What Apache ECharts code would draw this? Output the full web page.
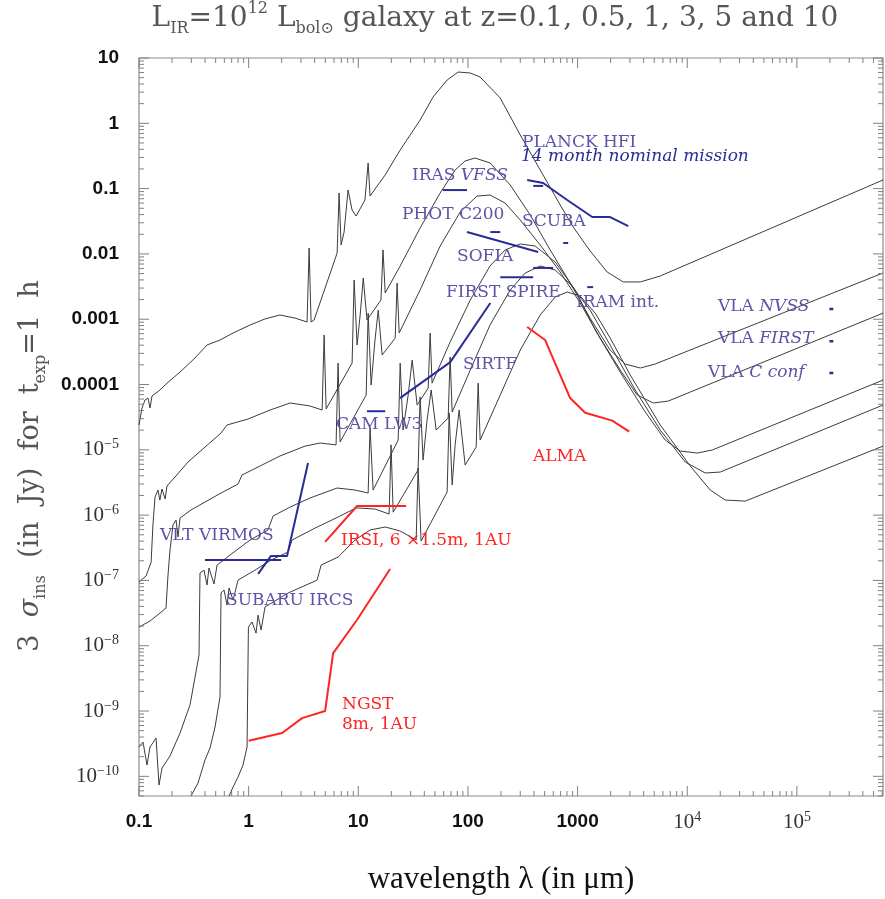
<!DOCTYPE html>
<html>
<head>
<meta charset="utf-8">
<title>LIR galaxy SED vs sensitivities</title>
<script src="https://cdn.jsdelivr.net/npm/echarts@6.0.0/dist/echarts.min.js"></script>
<style>
  html, body { margin: 0; padding: 0; background: #fff; }
  #chart { width: 885px; height: 899px; }
</style>
</head>
<body>
<div id="chart"></div>
<script>
// axis ranges (wavelength in micron, flux in Jy)
var xMin = 0.1, xMax = 6.1e5;
var yMin = 5e-11, yMax = 10;

var xMajorTicks = [0.1, 1, 10, 100, 1000, 1e4, 1e5];
var xTickLabels = ['{d|0.1}', '{d|1}', '{d|10}', '{d|100}', '{d|1000}', '{p|10}{e|4}', '{p|10}{e|5}'];
var yMajorTicks = [1e-10, 1e-9, 1e-8, 1e-7, 1e-6, 1e-5, 1e-4, 1e-3, 0.01, 0.1, 1, 10];
var yTickLabels = ['{p|10}{e|\u221210}', '{p|10}{e|\u22129}', '{p|10}{e|\u22128}', '{p|10}{e|\u22127}',
  '{p|10}{e|\u22126}', '{p|10}{e|\u22125}', '{d|0.0001}', '{d|0.001}', '{d|0.01}', '{d|0.1}', '{d|1}', '{d|10}'];
var minorSteps = [2, 3, 4, 5, 6, 7, 8, 9];

// galaxy SEDs, [wavelength, flux]
var sedZ0_1 = [[0.1, 2.4e-5], [0.1065, 4.37e-5], [0.1134, 5.79e-5], [0.1208, 6.21e-5], [0.126, 4.37e-5], [0.1314, 6.67e-5],
  [0.1554, 8.24e-5], [0.18, 1.05e-4], [0.2366, 1.55e-4], [0.324, 2.55e-4], [0.417, 4.03e-4], [0.548, 4.8e-4], [0.721, 6.15e-4],
  [1.03, 8.15e-4], [1.41, 1.01e-3], [1.93, 1.16e-3], [2.65, 1.04e-3], [3.41, 9.06e-4], [3.56, 1.23e-2], [3.71, 9.06e-4],
  [3.95, 9.72e-4], [6.41, 1.03e-2], [6.68, 0.0857], [6.97, 0.0137], [7.42, 0.0216], [8.07, 0.0953], [8.78, 0.047], [9.55, 0.038],
  [11.5, 0.0668], [12.3, 0.247], [12.8, 0.077], [17.6, 0.162], [24.1, 0.39], [36.6, 1.12], [48.1, 2.53], [64.6, 4.6], [81.4, 6.1],
  [105, 5.89], [129, 5.12], [197, 2.44], [300, 0.662], [456, 0.193], [694, 0.0561], [912, 0.0258], [1300, 0.0111], [1860, 5.28e-3],
  [2610, 3.72e-3], [3730, 3.72e-3], [5670, 4.59e-3], [6.1e5, 0.1355]];
var sedZ0_5 = [[0.1, 9.46e-8], [0.116, 1.17e-7], [0.129, 1.91e-7], [0.134, 7.05e-7], [0.14, 1.89e-6], [0.149, 2.42e-6], [0.155, 1.7e-6],
  [0.162, 2.51e-6], [0.173, 1.77e-6], [0.18, 2.79e-6], [0.213, 3.83e-6], [0.28, 6.5e-6], [0.4, 1.1e-5], [0.56, 1.81e-5], [0.635, 2.4e-5],
  [0.987, 2.96e-5], [1.57, 4.07e-5], [2.39, 5.21e-5], [3.63, 4.69e-5], [4.68, 4.07e-5], [4.88, 5.73e-4], [5.09, 4.22e-5], [8.78, 2.13e-4],
  [9.16, 3.98e-3], [9.75, 4.03e-4], [10.4, 1.16e-3], [11.1, 4.28e-3], [12.0, 9.72e-4], [16.1, 1.97e-3], [16.8, 0.0115], [17.6, 2.52e-3],
  [24.1, 6.53e-3], [36.6, 0.0249], [55.8, 0.0857], [76.4, 0.193], [94.3, 0.265], [116, 0.294], [159, 0.247], [243, 0.1135], [370, 0.0394],
  [562, 0.0115], [856, 3.58e-3], [1300, 1.04e-3], [1980, 3.37e-4], [2720, 2.06e-4], [3730, 1.79e-4], [5100, 2.06e-4], [6.1e5, 5.1e-3]];
var sedZ1 = [[0.1, 1.93e-8], [0.126, 2.39e-8], [0.1554, 3.17e-8], [0.1764, 3.78e-8], [0.1839, 1.21e-7], [0.1918, 2.92e-7], [0.2042, 7.05e-7],
  [0.2177, 8.41e-7], [0.2269, 4.62e-7], [0.2366, 9.03e-7], [0.298, 1.2e-6], [0.56, 2.18e-6], [0.8, 2.99e-6], [0.87, 4.11e-6], [1.27, 5.65e-6],
  [1.93, 8.04e-6], [3.27, 1.14e-5], [4.48, 1.27e-5], [6.27, 1.19e-5], [6.54, 2.13e-4], [6.82, 1.32e-5], [11.8, 6.9e-5], [12.3, 1.24e-3],
  [13.1, 9.82e-5], [14.2, 4.8e-4], [15.2, 1.38e-3], [16.5, 2.83e-4], [21.7, 5.15e-4], [22.6, 3.58e-3], [23.6, 6.15e-4], [36.6, 2.8e-3],
  [55.8, 0.0132], [84.9, 0.0438], [121, 0.077], [159, 0.0798], [218, 0.0602], [300, 0.033], [456, 0.0137], [694, 5.28e-3], [1056, 1.77e-3],
  [1608, 5.15e-4], [2447, 1.67e-4], [3498, 6.9e-5], [4896, 5.21e-5], [6708, 5.58e-5], [6.1e5, 1.24e-3]];
var sedZ3 = [[0.1, 2.81e-10], [0.1088, 3.35e-10], [0.1183, 1.49e-10], [0.126, 2.81e-10], [0.143, 3.86e-10], [0.1522, 7.36e-11],
  [0.1622, 1.34e-10], [0.1918, 2.05e-10], [0.2366, 4.6e-10], [0.292, 1.24e-9], [0.3527, 7.21e-9], [0.36, 1.3e-7], [0.3917, 1.44e-7],
  [0.4173, 8.51e-8], [0.435, 1.55e-7], [0.483, 8.81e-8], [0.515, 1.72e-7], [0.677, 2.45e-7], [1.03, 4.16e-7], [1.5, 5.92e-7], [1.67, 9.68e-7],
  [2.39, 1.33e-6], [3.63, 1.83e-6], [6.41, 2.6e-6], [9.35, 2.42e-6], [12.3, 2.18e-6], [12.8, 2.23e-5], [13.65, 2.42e-6], [23.1, 1.41e-5],
  [24.1, 2.13e-4], [25.6, 2.01e-5], [28.5, 6.9e-5], [31.0, 2.37e-4], [34.4, 4.85e-5], [43.4, 8.83e-5], [45.2, 6.15e-4], [47.1, 1.05e-4],
  [68.8, 4.48e-4], [105, 1.97e-3], [159, 6.53e-3], [218, 0.0115], [300, 0.0142], [410, 0.0132], [625, 7.52e-3], [951, 2.8e-3],
  [1447, 6.84e-4], [2447, 1.55e-4], [4139, 3.79e-5], [6300, 1.41e-5], [8634, 9.59e-6], [12340, 8.93e-6], [16910, 9.93e-6], [6.1e5, 1.17e-4]];
var sedZ5 = [[0.298, 5e-11], [0.3453, 7.89e-11], [0.4, 1.78e-10], [0.4444, 2.71e-10], [0.4937, 5.69e-10], [0.548, 1.64e-9], [0.56, 6.41e-8],
  [0.5964, 7.13e-8], [0.635, 4.2e-8], [0.6626, 7.65e-8], [0.7208, 5.01e-8], [0.8, 1.01e-7], [1.144, 1.44e-7], [1.601, 2.05e-7],
  [2.288, 2.72e-7], [2.489, 4.16e-7], [4.035, 6.34e-7], [6.54, 9.35e-7], [9.55, 1.29e-6], [14.2, 1.24e-6], [19.1, 1.04e-6], [19.9, 1.19e-5],
  [20.8, 1.11e-6], [35.1, 4.91e-6], [36.6, 6.44e-5], [39.0, 6.98e-6], [42.4, 2.86e-5], [46.2, 8.24e-5], [51.3, 2.01e-5], [66.0, 3.07e-5],
  [68.8, 2.64e-4], [71.8, 3.79e-5], [105, 1.67e-4], [159, 8.15e-4], [243, 2.8e-3], [333, 5.1e-3], [456, 6.53e-3], [625, 5.66e-3],
  [856, 3.46e-3], [1300, 1.38e-3], [1980, 4.03e-4], [3354, 8.24e-5], [5670, 2.01e-5], [9590, 6.5e-6], [14600, 4.42e-6], [20010, 4.57e-6],
  [6.1e5, 4.85e-5]];
var sedZ10 = [[0.6626, 5e-11], [0.7208, 6.85e-11], [0.8, 9.75e-11], [0.889, 1.49e-10], [0.967, 2.81e-10], [0.995, 1.93e-8], [1.074, 2.31e-8],
  [1.168, 1.56e-8], [1.218, 2.95e-8], [1.298, 1.74e-8], [1.411, 3.92e-8], [2.288, 6.41e-8], [4.21, 1.01e-7], [4.58, 1.72e-7], [6.54, 2.28e-7],
  [9.35, 4.16e-7], [12.8, 5.92e-7], [17.6, 6.58e-7], [24.1, 5.71e-7], [33.7, 4.16e-7], [35.1, 5.26e-6], [37.4, 4.01e-7], [64.6, 2.26e-6],
  [67.4, 3.66e-5], [71.8, 2.89e-6], [76.4, 1.19e-5], [83.1, 4.07e-5], [94.3, 5.85e-6], [118.8, 1.1e-5], [123.9, 1.05e-4], [129.2, 1.41e-5],
  [197, 6.9e-5], [300, 3.37e-4], [456, 1.16e-3], [625, 2.19e-3], [804, 2.61e-3], [1056, 2.26e-3], [1447, 1.24e-3], [1984, 5.15e-4],
  [3020, 1.4e-4], [5670, 2.4e-5], [10650, 5.65e-6], [16220, 2.42e-6], [22220, 1.7e-6], [33830, 1.64e-6], [6.1e5, 1.14e-5]];

// instrument sensitivities (blue: existing/planned, red: future)
var virmos = [[0.4, 2.06e-7], [1.98, 2.06e-7]];
var subaruIrcs = [[1.22, 1.26e-7], [1.6, 2.37e-7], [2.24, 2.37e-7], [3.48, 6.3e-6]];
var camLw3 = [[12.0, 3.9e-5], [17.6, 3.9e-5]];
var sirtf = [[24, 6.2e-5], [69, 2.2e-4], [160, 1.77e-3]];
var spireShort = [[197, 4.4e-3], [393, 4.4e-3]];
var spireLong = [[393, 6.1e-3], [599, 6.1e-3]];
var sofia = [[98, 0.0216], [437, 0.0107]];
var photC200 = [[160, 0.0216], [197, 0.0216]];
var irasVfss = [[59, 0.095], [98, 0.095]];
var planckHfi = [[347, 0.135], [485, 0.122], [804, 0.067], [1360, 0.0367], [1980, 0.0367], [2900, 0.0267]];
var planckDash = [[394, 0.11], [485, 0.11]];
var scuba = [[740, 0.0147], [821, 0.0147]];
var iramInt = [[1225, 3.1e-3], [1387, 3.1e-3]];
var vlaNvss = [[1.98e5, 1.43e-3], [2.15e5, 1.43e-3]];
var vlaFirst = [[1.98e5, 4.6e-4], [2.15e5, 4.6e-4]];
var vlaCconf = [[1.98e5, 1.5e-4], [2.15e5, 1.5e-4]];
var irsi = [[4.98, 3.9e-7], [9.75, 1.38e-6], [27.3, 1.38e-6]];
var ngst = [[1.0, 3.5e-10], [2.02, 4.6e-10], [3.07, 7.8e-10], [4.98, 1.0e-9], [5.9, 7.7e-9], [9.75, 2.5e-8], [19.5, 1.5e-7]];
var alma = [[347, 7.6e-4], [506, 4.8e-4], [855, 6.2e-5], [1172, 3.7e-5], [2070, 2.8e-5], [2960, 1.9e-5]];

var curveColor = '#3c3c3c';
var lineBlue = '#2a2c95';
var labelBlue = '#5d54a6';
var red = '#ff2424';
var tickColor = '#808080';

function sed(data) {
  return { type: 'line', data: data, symbol: 'none', silent: true, z: 2,
    lineStyle: { color: curveColor, width: 1 } };
}
function instr(data, color, w) {
  return { type: 'line', data: data, symbol: 'none', silent: true, z: 3,
    lineStyle: { color: color, width: w || 2 } };
}

// tick tables (value, major flag, label index)
function tickTable(majors, eFrom, eTo, lo, hi, isX) {
  var out = [];
  for (var e = eFrom; e <= eTo; e++) {
    [1].concat(minorSteps).forEach(function (m) {
      var v = Number((m * Math.pow(10, e)).toPrecision(6));
      if (v < lo * 0.999 || v > hi * 1.001) return;
      var idx = -1;
      if (m === 1) {
        majors.forEach(function (t, i) { if (Math.abs(Math.log10(t) - e) < 1e-6) idx = i; });
      }
      out.push(isX ? [v, yMin, m === 1 ? 1 : 0, idx] : [xMin, v, m === 1 ? 1 : 0, idx]);
    });
  }
  return out;
}
var xTickData = tickTable(xMajorTicks, -1, 5, xMin, xMax, true);
var yTickData = tickTable(yMajorTicks, -11, 1, yMin, yMax, false);

var tickRich = {
  d: { fontFamily: 'Liberation Sans', fontWeight: 'bold', fontSize: 19, fill: '#111', lineHeight: 24 },
  p: { fontFamily: 'Liberation Serif', fontSize: 21, fill: '#333', lineHeight: 24 },
  e: { fontFamily: 'Liberation Serif', fontSize: 14, fill: '#333', lineHeight: 14, verticalAlign: 'top' }
};

function tickSeries(data, isX) {
  return {
    type: 'custom', coordinateSystem: 'cartesian2d', data: data, silent: true, clip: false, z: 5,
    renderItem: function (params, api) {
      var cs = params.coordSys;
      var major = api.value(2) === 1;
      var len = major ? 10 : 5;
      var p = api.coord([api.value(0), api.value(1)]);
      var st = { stroke: tickColor, lineWidth: 1 };
      var ch = [];
      if (isX) {
        var b = cs.y + cs.height, t = cs.y;
        ch.push({ type: 'line', shape: { x1: p[0], y1: b, x2: p[0], y2: b - len }, style: st });
        ch.push({ type: 'line', shape: { x1: p[0], y1: t, x2: p[0], y2: t + len }, style: st });
      } else {
        var l = cs.x, r = cs.x + cs.width;
        ch.push({ type: 'line', shape: { x1: l, y1: p[1], x2: l + len, y2: p[1] }, style: st });
        ch.push({ type: 'line', shape: { x1: r - len, y1: p[1], x2: r, y2: p[1] }, style: st });
      }
      var idx = api.value(3);
      if (idx >= 0) {
        var txt = isX ? xTickLabels[idx] : yTickLabels[idx];
        ch.push({ type: 'text',
          x: isX ? p[0] : cs.x - 20, y: isX ? cs.y + cs.height + 26 : p[1],
          style: { text: txt, rich: tickRich, align: isX ? 'center' : 'right', verticalAlign: 'middle' } });
      }
      return { type: 'group', children: ch };
    }
  };
}

function note(x, y, text, color, size) {
  var fs = size || 17;
  return { type: 'text', x: x, y: y, z: 20, silent: true,
    style: { text: text, fill: color, fontFamily: 'DejaVu Serif', fontSize: fs, align: 'left', verticalAlign: 'middle',
      rich: { i: { fill: color, fontFamily: 'DejaVu Serif', fontSize: fs, fontStyle: 'italic' } } } };
}

var chart = echarts.init(document.getElementById('chart'));
chart.setOption({
  animation: false,
  backgroundColor: '#fff',
  grid: { left: 139, right: 2, top: 58, bottom: 103, show: true, borderColor: '#8c8c8c', borderWidth: 1.2, backgroundColor: 'transparent' },
  xAxis: { type: 'log', logBase: 10, min: xMin, max: xMax,
    axisLine: { show: false }, axisTick: { show: false }, axisLabel: { show: false }, splitLine: { show: false } },
  yAxis: { type: 'log', logBase: 10, min: yMin, max: yMax,
    axisLine: { show: false }, axisTick: { show: false }, axisLabel: { show: false }, splitLine: { show: false } },
  series: [
    sed(sedZ0_1), sed(sedZ0_5), sed(sedZ1), sed(sedZ3), sed(sedZ5), sed(sedZ10),
    instr(virmos, lineBlue), instr(subaruIrcs, lineBlue), instr(camLw3, lineBlue), instr(sirtf, lineBlue),
    instr(spireShort, lineBlue), instr(spireLong, lineBlue), instr(sofia, lineBlue), instr(photC200, lineBlue),
    instr(irasVfss, lineBlue), instr(planckHfi, lineBlue), instr(planckDash, lineBlue), instr(scuba, lineBlue),
    instr(iramInt, lineBlue), instr(vlaNvss, lineBlue, 2.5), instr(vlaFirst, lineBlue, 2.5), instr(vlaCconf, lineBlue, 2.5),
    instr(irsi, red), instr(ngst, red), instr(alma, red),
    tickSeries(xTickData, true), tickSeries(yTickData, false)
  ],
  graphic: [
    { type: 'text', x: 495, y: 19, silent: true,
      style: { text: '{t|L}{sub|IR}{t|=10}{sup|12}{t| L}{sub|bol\u2299}{t| galaxy at z=0.1, 0.5, 1, 3, 5 and 10}',
        align: 'center', verticalAlign: 'middle',
        rich: {
          t: { fontFamily: 'DejaVu Serif', fontSize: 28, fill: '#555', lineHeight: 36 },
          sub: { fontFamily: 'DejaVu Serif', fontSize: 16, fill: '#555', lineHeight: 16, verticalAlign: 'bottom' },
          sup: { fontFamily: 'DejaVu Serif', fontSize: 16, fill: '#555', lineHeight: 16, verticalAlign: 'top' }
        } } },
    { type: 'text', x: 31, y: 466, rotation: Math.PI / 2, silent: true,
      style: { text: '{t|3  }{i|\u03c3}{sub|ins}{t|  (in  Jy)  for  t}{sub|exp}{t|=1  h}',
        align: 'center', verticalAlign: 'middle',
        rich: {
          t: { fontFamily: 'DejaVu Serif', fontSize: 27, fill: '#555', lineHeight: 36 },
          i: { fontFamily: 'DejaVu Serif', fontSize: 27, fontStyle: 'italic', fill: '#555', lineHeight: 36 },
          sub: { fontFamily: 'DejaVu Serif', fontSize: 16, fill: '#555', lineHeight: 16, verticalAlign: 'bottom' }
        } } },
    { type: 'text', x: 501, y: 880, silent: true,
      style: { text: 'wavelength \u03bb (in \u03bcm)', fontFamily: 'Liberation Serif', fontSize: 31, fill: '#111',
        align: 'center', verticalAlign: 'middle' } },
    note(412, 176, 'IRAS {i|VFSS}', labelBlue),
    note(402, 215, 'PHOT C200', labelBlue),
    note(457, 257, 'SOFIA', labelBlue),
    note(446, 293, 'FIRST SPIRE', labelBlue),
    note(463, 365, 'SIRTF', labelBlue),
    note(336, 425, 'CAM LW3', labelBlue),
    note(522, 143, 'PLANCK HFI', labelBlue),
    note(521, 157, '{i|14 month nominal mission}', lineBlue),
    note(522, 222, 'SCUBA', labelBlue),
    note(576, 303, 'IRAM int.', labelBlue),
    note(718, 307, 'VLA {i|NVSS}', labelBlue),
    note(718, 339, 'VLA {i|FIRST}', labelBlue),
    note(708, 373, 'VLA {i|C conf}', labelBlue),
    note(160, 536, 'VLT VIRMOS', labelBlue),
    note(226, 601, 'SUBARU IRCS', labelBlue),
    note(533, 457, 'ALMA', red),
    note(341, 541, 'IRSI, 6 \u00d71.5m, 1AU', red),
    note(342, 705, 'NGST', red),
    note(342, 725, '8m, 1AU', red)
  ]
});
</script>
</body>
</html>
